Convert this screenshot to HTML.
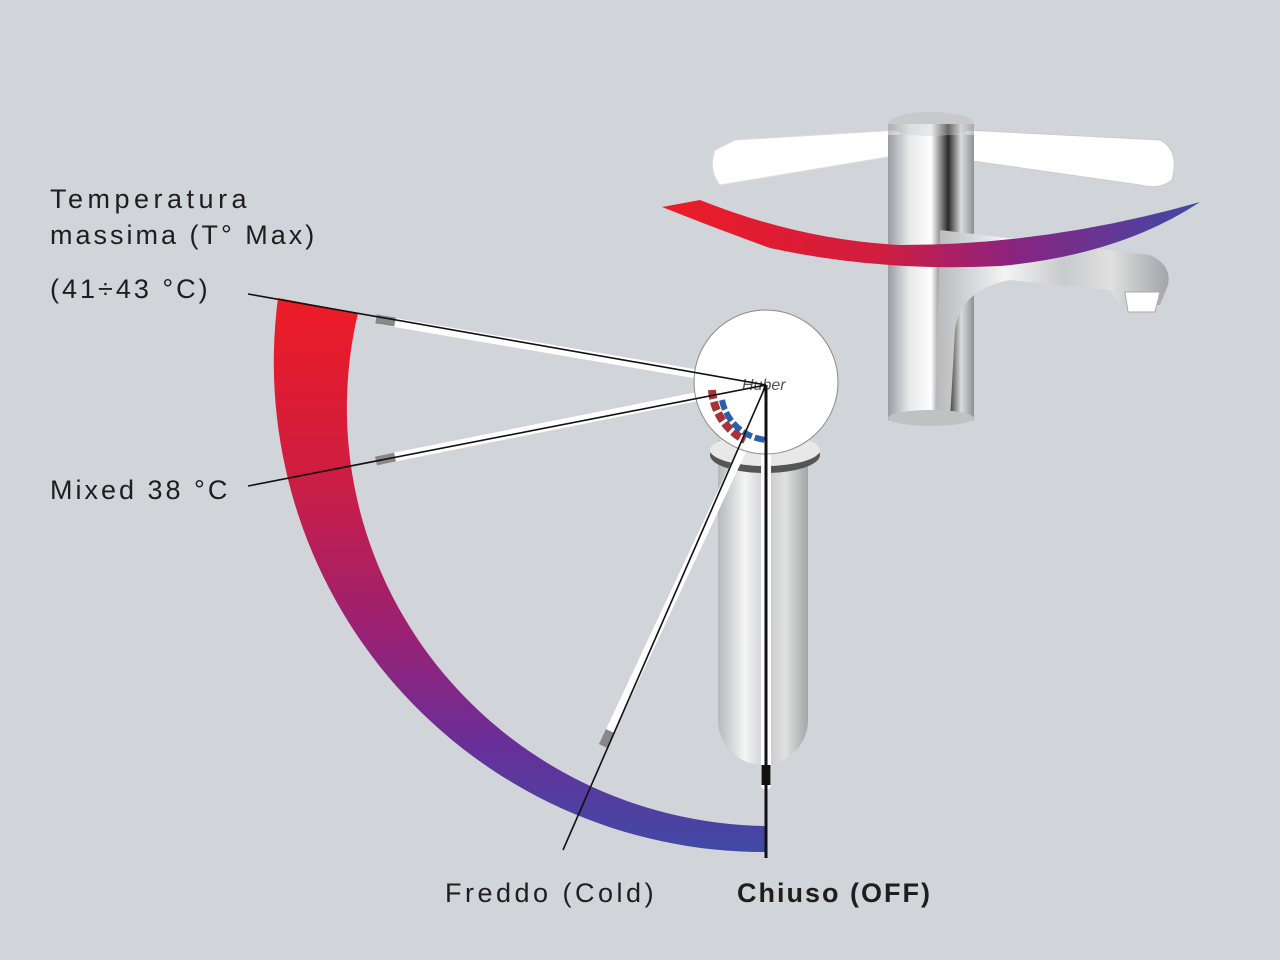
<!DOCTYPE html>
<html><head><meta charset="utf-8"><style>
html,body{margin:0;padding:0;background:#d1d4d8;}
svg{display:block}
text{font-family:"Liberation Sans",sans-serif;font-size:27px;fill:#1e1e1e;letter-spacing:4.5px}
</style></head><body>
<svg width="1280" height="960" viewBox="0 0 1280 960" xmlns="http://www.w3.org/2000/svg">
<defs>
<linearGradient id="g" x1="0" y1="300" x2="0" y2="852" gradientUnits="userSpaceOnUse">
<stop offset="0" stop-color="#ec1c26"/><stop offset="0.3" stop-color="#d11d3f"/>
<stop offset="0.6" stop-color="#9a2173"/><stop offset="0.8" stop-color="#6a2e98"/>
<stop offset="1" stop-color="#3f4aa6"/></linearGradient>
<linearGradient id="g2" x1="665" y1="0" x2="1200" y2="0" gradientUnits="userSpaceOnUse">
<stop offset="0" stop-color="#ec1c26"/><stop offset="0.4" stop-color="#d11d3f"/>
<stop offset="0.65" stop-color="#8a2380"/><stop offset="1" stop-color="#3f4aa6"/></linearGradient>
<linearGradient id="chrome" x1="0" y1="0" x2="1" y2="0">
<stop offset="0" stop-color="#9a9da1"/><stop offset="0.25" stop-color="#e8e9ea"/>
<stop offset="0.5" stop-color="#ffffff"/><stop offset="0.7" stop-color="#2a2a2a"/>
<stop offset="0.85" stop-color="#dcdcdc"/><stop offset="1" stop-color="#8d9094"/></linearGradient>
<linearGradient id="chrome2" x1="0" y1="0" x2="1" y2="0">
<stop offset="0" stop-color="#b6b8bb"/><stop offset="0.3" stop-color="#f4f4f4"/>
<stop offset="0.55" stop-color="#c9cacc"/><stop offset="0.75" stop-color="#e0e0e0"/>
<stop offset="1" stop-color="#a3a5a8"/></linearGradient>
</defs>

<!-- right faucet -->
<path d="M715 150 Q708 170 720 185 L900 155 L900 130 L735 140 Z" fill="#fff" stroke="#ddd"/>
<path d="M965 130 L1160 140 Q1180 150 1172 180 Q1160 190 1140 185 L965 160 Z" fill="#fff" stroke="#ccc"/>
<rect x="888" y="135" width="86" height="285" fill="url(#chrome)"/>
<ellipse cx="931" cy="124" rx="43" ry="12" fill="#c8c9cb"/>
<rect x="888" y="124" width="86" height="40" fill="url(#chrome)" opacity="0.6"/>
<path d="M940 230 L1150 255 Q1172 265 1168 285 L1160 305 L1120 305 L1110 290 L1010 280 Q960 290 955 330 L950 420 L935 420 Z" fill="url(#chrome2)"/>
<path d="M1125 292 L1160 292 L1155 312 L1128 312 Z" fill="#fff" stroke="#aaa"/>
<ellipse cx="931" cy="418" rx="43" ry="8" fill="#bfc1c3"/>
<path d="M662 207 L700 200 Q800 240 900 245 Q1050 245 1200 202 Q1120 255 1000 266 Q880 272 770 248 Q720 230 662 207 Z" fill="url(#g2)"/>

<!-- big arc -->
<path d="M278 298 A490 490 0 0 0 765 852 L765 826 A425 418 0 0 1 358 313 Z" fill="url(#g)"/>

<!-- left faucet body -->
<rect x="718" y="440" width="90" height="325" rx="45" fill="url(#chrome2)"/>
<rect x="718" y="440" width="90" height="70" fill="url(#chrome2)"/>
<ellipse cx="765" cy="455" rx="55" ry="18" fill="#555"/>
<ellipse cx="765" cy="450" rx="55" ry="16" fill="#e8e8e8"/>

<!-- handles -->
<g stroke-linecap="round">
<line x1="380" y1="320" x2="720" y2="378" stroke="#fff" stroke-width="9"/>
<line x1="380" y1="460" x2="720" y2="392" stroke="#fff" stroke-width="9"/>
<line x1="605" y1="742" x2="742" y2="450" stroke="#fff" stroke-width="9"/>
<line x1="766" y1="450" x2="766" y2="785" stroke="#fff" stroke-width="10"/>
</g>
<line x1="376" y1="319" x2="395" y2="322" stroke="#888" stroke-width="9"/>
<line x1="376" y1="461" x2="395" y2="457" stroke="#888" stroke-width="9"/>
<line x1="603" y1="746" x2="610" y2="731" stroke="#888" stroke-width="9"/>
<line x1="766" y1="765" x2="766" y2="785" stroke="#111" stroke-width="9"/>

<circle cx="766" cy="382" r="72" fill="#fff" stroke="#888" stroke-width="1"/>
<text x="742" y="390" style="font-size:16px;font-style:italic;fill:#555;letter-spacing:0">Huber</text>
<path d="M712 390 A60 60 0 0 0 745 440" fill="none" stroke="#a83236" stroke-width="8" stroke-dasharray="9 3"/>
<path d="M722 400 A50 50 0 0 0 766 440" fill="none" stroke="#2a5ea8" stroke-width="6" stroke-dasharray="10 3"/>

<!-- lines -->
<g stroke="#111" stroke-width="1.6">
<line x1="248" y1="294" x2="766" y2="385"/>
<line x1="248" y1="486" x2="766" y2="385"/>
<line x1="563" y1="850" x2="766" y2="385"/>
<line x1="766" y1="385" x2="766" y2="858" stroke-width="3"/>
</g>

<!-- labels -->
<text x="50" y="208">Temperatura</text>
<text x="50" y="244" style="letter-spacing:3px">massima (T° Max)</text>
<text x="50" y="298" style="letter-spacing:3px">(41÷43 °C)</text>
<text x="50" y="499" style="letter-spacing:3px">Mixed 38 °C</text>
<text x="445" y="902" style="letter-spacing:3.5px">Freddo (Cold)</text>
<text x="737" y="902" style="font-weight:bold;letter-spacing:2px">Chiuso (OFF)</text>
</svg>
</body></html>
